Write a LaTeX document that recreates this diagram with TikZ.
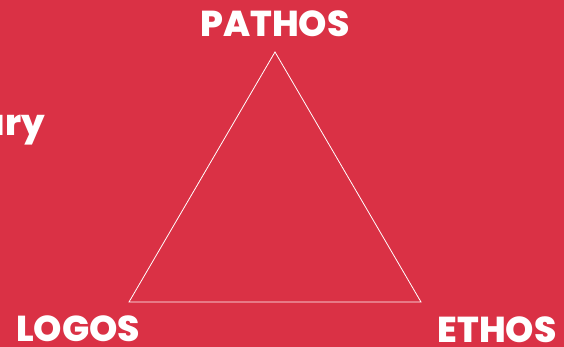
\documentclass[tikz,border=0pt]{standalone}
\usepackage{fontspec}
\newfontfamily\heavyfont{Poppins ExtraBold}
\usetikzlibrary{positioning}
\definecolor{cred}{RGB}{218, 49, 69}
\tikzset{
	x=1pt, y=-1pt,%
	label/.style={%
			text=white,%
			font={\heavyfont\fontsize{36}{36}\selectfont},%
			inner sep=0},%
	side/.style={%
			draw=white,%
			line width=0.8pt},%
}

\begin{document}
\begin{tikzpicture}
	\fill[cred] (0,0) rectangle (564,347);
	\useasboundingbox (0,0) rectangle (564,347);

	\coordinate (apex) at (275,52);
	\coordinate (left) at (129,302);
	\coordinate (right) at (421,302);

	\node[label] (pathos) at (275,24) {PATHOS};
	\node[label] (logos) at (78,329) {LOGOS};
	\node[label] (ethos) at (497,330) {ETHOS};
	\node[label, anchor=base east] (ary) at (45,136) {ary};

	\draw[side] (apex) -- (left) -- (right) -- cycle;
\end{tikzpicture}
\end{document}
